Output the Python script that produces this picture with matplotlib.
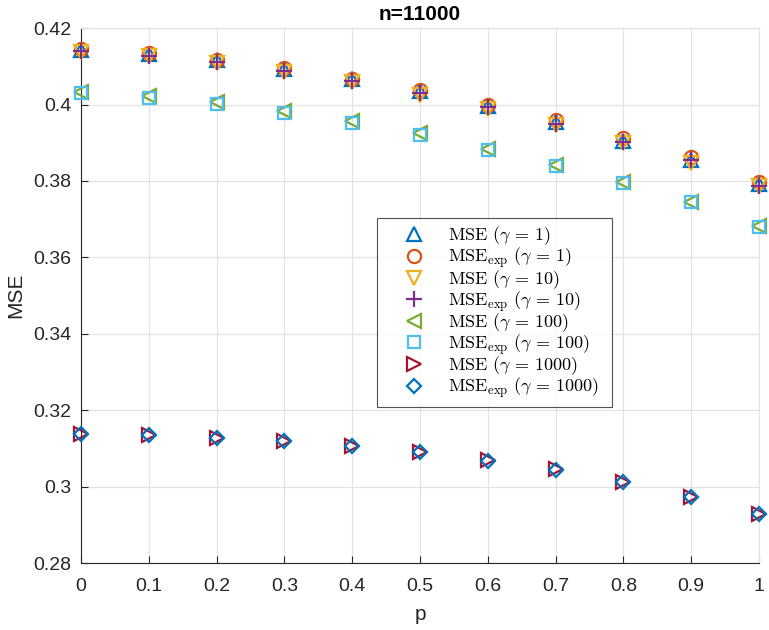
import numpy as np
import matplotlib.pyplot as plt

plt.rcParams['mathtext.fontset'] = 'cm'
plt.rcParams['font.family'] = ['Liberation Sans', 'DejaVu Sans']

# ---- data ----
p = [0, 0.1, 0.2, 0.3, 0.4, 0.5, 0.6, 0.7, 0.8, 0.9, 1.0]

mse_g1 = [0.4143, 0.4133, 0.4116, 0.4093, 0.4066, 0.4035, 0.3997, 0.3954, 0.3905, 0.3855, 0.3792]
mse_exp_g1 = [0.4145, 0.4134, 0.4117, 0.4095, 0.4068, 0.4037, 0.3999, 0.3959, 0.3913, 0.3863, 0.3797]
mse_g10 = [0.4138, 0.4127, 0.4108, 0.4085, 0.4058, 0.4025, 0.3988, 0.3946, 0.3899, 0.3848, 0.3786]
mse_exp_g10 = [0.4139, 0.4128, 0.4111, 0.4089, 0.4062, 0.4030, 0.3993, 0.3950, 0.3903, 0.3855, 0.3788]
mse_g100 = [0.4033, 0.4022, 0.4006, 0.3984, 0.3958, 0.3925, 0.3885, 0.3843, 0.3797, 0.3746, 0.3682]
mse_exp_g100 = [0.4030, 0.4018, 0.4002, 0.3979, 0.3953, 0.3921, 0.3882, 0.3840, 0.3795, 0.3744, 0.3680]
mse_g1000 = [0.3139, 0.3135, 0.3128, 0.3119, 0.3106, 0.3090, 0.3069, 0.3045, 0.3013, 0.2974, 0.2928]
mse_exp_g1000 = [0.3139, 0.3135, 0.3128, 0.3119, 0.3106, 0.3090, 0.3068, 0.3044, 0.3012, 0.2973, 0.2928]

series = [
    (mse_g1, '^', 10, '#0072BD', r'$\mathrm{MSE}\ (\gamma\,=\,1)$'),
    (mse_exp_g1, 'o', 9.5, '#D95319', r'$\mathrm{MSE}_{\mathrm{exp}}\ (\gamma\,=\,1)$'),
    (mse_g10, 'v', 10, '#EDB120', r'$\mathrm{MSE}\ (\gamma\,=\,10)$'),
    (mse_exp_g10, '+', 11, '#7E2F8E', r'$\mathrm{MSE}_{\mathrm{exp}}\ (\gamma\,=\,10)$'),
    (mse_g100, '<', 10, '#77AC30', r'$\mathrm{MSE}\ (\gamma\,=\,100)$'),
    (mse_exp_g100, 's', 9, '#4DBEEE', r'$\mathrm{MSE}_{\mathrm{exp}}\ (\gamma\,=\,100)$'),
    (mse_g1000, '>', 10, '#A2142F', r'$\mathrm{MSE}\ (\gamma\,=\,1000)$'),
    (mse_exp_g1000, 'D', 7.5, '#0072BD', r'$\mathrm{MSE}_{\mathrm{exp}}\ (\gamma\,=\,1000)$'),
]

fig = plt.figure(figsize=(7.69, 6.30), dpi=100)
ax = fig.add_axes([0.1053, 0.1063, 0.8817, 0.849])

for vals, mk, ms, col, lab in series:
    ax.plot(p, vals, linestyle='none', marker=mk, markersize=ms,
            markerfacecolor='none', markeredgecolor=col, markeredgewidth=1.6,
            color=col, label=lab, clip_on=False, zorder=3)

ax.set_xlim(0, 1)
ax.set_ylim(0.28, 0.42)
ax.set_xticks(np.arange(0, 1.01, 0.1))
ax.set_xticklabels(['0', '0.1', '0.2', '0.3', '0.4', '0.5', '0.6', '0.7', '0.8', '0.9', '1'])
ax.set_yticks(np.arange(0.28, 0.4201, 0.02))
ax.set_yticklabels(['0.28', '0.3', '0.32', '0.34', '0.36', '0.38', '0.4', '0.42'])

ax.grid(True, color='#e3e3e3', linewidth=0.9)
ax.set_axisbelow(True)
for s in ['left', 'bottom']:
    ax.spines[s].set_color('#262626')
    ax.spines[s].set_linewidth(0.8)
for s in ['top', 'right']:
    ax.spines[s].set_color('#e3e3e3')
    ax.spines[s].set_linewidth(0.9)
ax.tick_params(direction='in', length=5, width=0.8, color='#262626',
               labelsize=14, labelcolor='#262626', pad=7)
ax.tick_params(axis='x', pad=11)

ax.set_xlabel('p', fontsize=15, color='#262626', labelpad=7)
ax.set_ylabel('MSE', fontsize=15, color='#262626', labelpad=6)
ax.set_title('n=11000', fontsize=15, fontweight='bold', color='#000000', pad=6)

leg = ax.legend(loc='upper left', bbox_to_anchor=(0.4366, 0.6445, 0.3466, 0.0),
                mode='expand', fontsize=13, frameon=True, fancybox=False,
                handletextpad=0.2, borderpad=0.35, labelspacing=-0.12,
                handlelength=3.4, borderaxespad=0)
leg.get_frame().set_edgecolor('#262626')
leg.get_frame().set_linewidth(0.8)

fig.savefig('out.png', dpi=100)
